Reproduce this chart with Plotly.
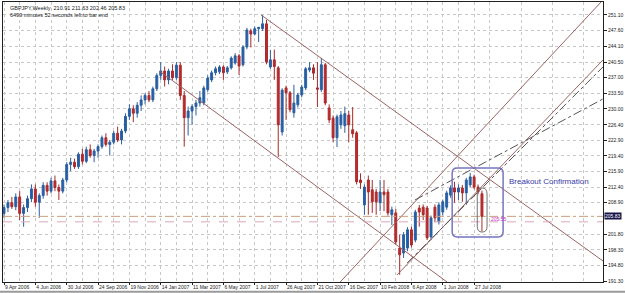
import datetime as dt
import plotly.graph_objects as go

# ---------------- data ----------------
first_week = dt.datetime(2006, 4, 9)
week_labels = ["9 Apr 2006", "4 Jun 2006", "30 Jul 2006", "24 Sep 2006", "19 Nov 2006",
               "14 Jan 2007", "11 Mar 2007", "6 May 2007", "1 Jul 2007", "26 Aug 2007",
               "21 Oct 2007", "16 Dec 2007", "10 Feb 2008", "6 Apr 2008", "1 Jun 2008",
               "27 Jul 2008"]
label_weeks = [0, 8, 16, 24, 32, 40, 48, 56, 64, 72, 80, 88, 96, 104, 112, 120]

price_labels = ["251.10", "247.60", "244.10", "240.50", "237.00", "233.50", "230.00",
                "226.40", "222.90", "219.40", "215.90", "212.40", "208.90", "201.80",
                "198.30", "194.80", "191.30"]

opens = [206.5, 207.8, 208.9, 208.0, 210.2, 206.5, 207.8, 209.8, 212.0, 209.0,
         210.5, 212.8, 211.5, 213.8, 212.3, 211.5, 214.0, 217.5, 218.0, 217.0,
         219.8, 218.2, 220.8, 219.5, 220.5, 221.5, 223.5, 222.0, 222.5, 224.5,
         223.0, 225.0, 228.3, 230.0, 229.0, 230.8, 232.0, 233.0, 232.0, 234.5,
         237.5, 238.5, 236.5, 238.5, 237.0, 239.8, 233.0, 228.0, 229.5, 230.5,
         231.3, 231.3, 234.3, 236.5, 238.1, 238.3, 239.4, 238.3, 239.2, 240.3,
         241.9, 239.9, 243.9, 247.5, 246.8, 248.0, 248.0, 249.1, 239.4, 241.0,
         239.2, 224.8, 234.7, 233.6, 229.1, 230.9, 233.1, 234.7, 238.7, 239.2,
         234.7, 234.3, 239.9, 230.2, 227.9, 223.5, 226.4, 226.2, 228.6, 225.3,
         224.6, 214.0, 208.4, 214.0, 211.8, 211.3, 208.9, 211.3, 211.3, 206.2,
         206.6, 198.7, 197.6, 198.7, 202.8, 200.5, 207.7, 207.9, 207.7, 201.2,
         207.9, 204.6, 206.8, 207.9, 210.6, 212.2, 211.3, 212.2, 211.1, 212.9,
         214.7, 212.4, 210.91]
highs = [208.5, 209.5, 210.2, 211.0, 211.5, 208.5, 210.5, 213.0, 213.0, 211.0,
         213.5, 213.5, 214.5, 215.0, 213.0, 214.5, 218.0, 219.0, 218.8, 220.2,
         221.0, 221.5, 222.0, 221.0, 222.0, 224.0, 224.5, 223.0, 225.0, 226.0,
         225.5, 229.0, 231.0, 230.8, 231.5, 233.0, 233.5, 234.0, 235.0, 238.0,
         240.5, 239.5, 239.0, 240.0, 240.5, 240.5, 234.0, 230.5, 231.0, 232.0,
         234.0, 235.2, 237.5, 238.6, 239.5, 239.8, 239.8, 239.6, 241.8, 242.5,
         242.3, 244.3, 248.2, 248.0, 248.5, 248.4, 251.1, 250.0, 243.2, 243.3,
         239.6, 234.6, 235.2, 234.0, 235.4, 233.6, 235.4, 239.4, 240.5, 240.0,
         240.5, 241.4, 240.3, 231.0, 228.5, 228.7, 229.5, 230.5, 229.5, 230.4,
         225.0, 215.5, 213.0, 215.0, 214.0, 212.0, 214.0, 214.0, 212.0, 208.0,
         207.5, 201.7, 202.3, 203.4, 203.5, 207.3, 208.4, 208.5, 208.2, 206.0,
         208.5, 209.0, 209.6, 211.6, 212.8, 213.6, 213.0, 212.9, 214.5, 215.6,
         215.2, 213.0, 211.63]
lows = [205.5, 206.8, 207.5, 207.2, 205.0, 203.5, 206.8, 209.0, 208.0, 205.5,
        209.8, 210.5, 211.0, 211.5, 209.5, 211.0, 213.5, 216.0, 216.5, 216.5,
        217.5, 217.8, 219.0, 218.0, 219.0, 221.0, 221.5, 219.5, 222.0, 222.5,
        222.0, 224.5, 227.5, 227.0, 228.0, 229.5, 231.0, 231.5, 231.5, 234.0,
        236.5, 235.0, 235.5, 236.5, 236.5, 232.0, 221.5, 224.0, 226.5, 228.5,
        230.5, 230.8, 233.8, 236.0, 237.5, 237.8, 236.5, 237.8, 238.8, 239.9,
        237.6, 239.5, 243.4, 243.8, 246.5, 245.0, 247.5, 240.0, 239.0, 236.5,
        219.2, 224.0, 227.5, 229.2, 228.0, 230.3, 232.6, 234.2, 238.2, 236.5,
        230.4, 233.8, 230.8, 226.8, 222.5, 221.4, 225.5, 224.6, 222.5, 223.5,
        213.0, 212.0, 206.2, 206.2, 206.6, 206.2, 207.0, 207.0, 206.0, 203.9,
        199.5, 192.7, 196.5, 198.0, 198.8, 200.0, 203.5, 205.0, 200.5, 200.5,
        204.5, 204.0, 206.0, 207.3, 210.0, 208.9, 209.5, 209.1, 208.4, 212.3,
        211.9, 210.8, 202.46]
closes = [207.8, 208.9, 208.0, 210.2, 206.5, 207.8, 209.8, 212.0, 209.0, 210.5,
          212.8, 211.5, 213.8, 212.3, 211.5, 214.0, 217.5, 218.0, 217.0, 219.8,
          218.2, 220.8, 219.5, 220.5, 221.5, 223.5, 222.0, 222.5, 224.5, 223.0,
          225.0, 228.3, 230.0, 229.0, 230.8, 232.0, 233.0, 232.0, 234.5, 237.5,
          238.5, 236.5, 238.5, 237.0, 239.8, 233.0, 228.0, 229.5, 230.5, 231.3,
          232.5, 234.7, 236.9, 238.1, 239.0, 239.4, 238.1, 239.2, 241.4, 241.9,
          239.6, 243.9, 247.7, 246.8, 248.0, 248.3, 249.1, 240.5, 241.0, 239.5,
          226.4, 234.2, 233.6, 229.8, 231.3, 233.1, 234.9, 239.0, 239.2, 238.0,
          234.4, 239.9, 231.3, 227.5, 223.5, 228.2, 228.6, 228.9, 226.4, 224.4,
          213.6, 213.4, 212.4, 211.3, 209.1, 209.1, 211.3, 210.7, 206.6, 207.3,
          200.1, 197.2, 201.7, 202.8, 199.4, 206.8, 206.8, 206.2, 201.0, 205.5,
          205.5, 208.4, 209.1, 211.1, 212.2, 211.3, 212.2, 211.1, 214.0, 214.7,
          212.4, 211.3, 205.83]

# trend lines drawn on the chart: (week index, price) endpoints
trend_solid = [((65.6, 251.1), (152.9, 195.8)),
               ((39.8, 238.4), (113.1, 191.08)),
               ((85.8, 191.07), (152.9, 254.47)),
               ((100.3, 192.65), (152.9, 240.98))]
trend_dash = [((104.9, 209.51), (152.9, 232.22)),
              ((102.9, 195.34), (152.9, 239.41))]

bid_price = 205.83
second_level = 204.6
box = (114.4, 127.4, 201.2, 216.7)
capsule = (120.8, 123.3, 202.3, 212.2)
x_span = (-0.26, 152.9)


def wk(w):
    return first_week + dt.timedelta(weeks=w)


def ts(w):
    return wk(w).strftime("%Y-%m-%d_%H:%M:%S")


# ---------------- figure ----------------
dates = [wk(i) for i in range(len(opens))]
fig = go.Figure()
fig.add_trace(go.Candlestick(
    x=dates, open=opens, high=highs, low=lows, close=closes,
    increasing=dict(line=dict(color="#2d5f9e", width=1), fillcolor="#1f5fb0"),
    decreasing=dict(line=dict(color="#a82a2a", width=1), fillcolor="#c4282c"),
    showlegend=False, hoverinfo="skip"))

trend_color = "#9c6464"
shapes = []
for (x0, y0), (x1, y1) in trend_solid:
    shapes.append(dict(type="line", xref="x", yref="y", x0=wk(x0), y0=y0, x1=wk(x1), y1=y1,
                       line=dict(color=trend_color, width=1)))
for (x0, y0), (x1, y1) in trend_dash:
    shapes.append(dict(type="line", xref="x", yref="y", x0=wk(x0), y0=y0, x1=wk(x1), y1=y1,
                       line=dict(color="#555555", width=1, dash="dashdot")))

shapes.append(dict(type="line", xref="paper", yref="y", x0=0, x1=1, y0=bid_price, y1=bid_price,
                   line=dict(color="#c8a07c", width=1, dash="dashdot")))
shapes.append(dict(type="line", xref="paper", yref="y", x0=0, x1=1, y0=second_level, y1=second_level,
                   line=dict(color="#d8a8bc", width=1, dash="dash")))


def rounded_path(x0, x1, y0, y1, rx, ry):
    return (f"M {ts(x0+rx)},{y0} L {ts(x1-rx)},{y0} Q {ts(x1)},{y0} {ts(x1)},{y0+ry} "
            f"L {ts(x1)},{y1-ry} Q {ts(x1)},{y1} {ts(x1-rx)},{y1} L {ts(x0+rx)},{y1} "
            f"Q {ts(x0)},{y1} {ts(x0)},{y1-ry} L {ts(x0)},{y0+ry} Q {ts(x0)},{y0} {ts(x0+rx)},{y0} Z")


bx0, bx1, by0, by1 = box
shapes.append(dict(type="path", xref="x", yref="y", path=rounded_path(bx0, bx1, by0, by1, 1.3, 1.1),
                   line=dict(color="#7676c0", width=1.5)))
cx0, cx1, cy0, cy1 = capsule
shapes.append(dict(type="path", xref="x", yref="y", path=rounded_path(cx0, cx1, cy0, cy1, 1.25, 1.3),
                   line=dict(color="#707070", width=1)))
# window frame strip at the very bottom
shapes.append(dict(type="line", xref="paper", yref="paper", x0=-0.01, x1=1.05, y0=-0.035, y1=-0.035,
                   line=dict(color="#9a9a9a", width=2)))

annotations = [
    dict(xref="paper", yref="paper", x=0, y=1, xanchor="left", yanchor="top", xshift=5, yshift=-1,
         text="GBPJPY,Weekly  210.91 211.63 202.46 205.83", showarrow=False,
         font=dict(size=5.5, color="#202020", family="Liberation Sans")),
    dict(xref="paper", yref="paper", x=0, y=1, xanchor="left", yanchor="top", xshift=5, yshift=-8,
         text="6499 minutes 52 seconds left to bar end", showarrow=False,
         font=dict(size=5.5, color="#202020", family="Liberation Sans")),
    dict(xref="x", yref="y", x=wk(128.5), y=213.6, xanchor="left", yanchor="middle",
         text="Breakout Confirmation", showarrow=False,
         font=dict(size=8, color="#3a3aa8", family="Liberation Sans")),
    dict(xref="x", yref="y", x=wk(123.8), y=205.2, xanchor="left", yanchor="middle",
         text="205.55", showarrow=False,
         font=dict(size=5, color="#cc33cc", family="Liberation Sans")),
    dict(xref="paper", yref="y", x=1, y=bid_price, xanchor="left", yanchor="middle", xshift=1,
         text="205.83", showarrow=False, bgcolor="#15154a", borderpad=0,
         font=dict(size=5, color="white", family="Liberation Sans")),
]

grid_weeks = list(range(4, 153, 8))
fig.update_layout(
    width=625, height=293,
    margin=dict(l=3, r=22, t=2, b=11),
    paper_bgcolor="white", plot_bgcolor="white",
    shapes=shapes, annotations=annotations,
    font=dict(family="Liberation Sans", size=5, color="#202020"),
    xaxis=dict(type="date", range=[wk(x_span[0]), wk(x_span[1])], tickmode="array",
               tickvals=[wk(w) for w in label_weeks], ticktext=week_labels,
               tickangle=0, ticklabelposition="outside right", ticks="outside", ticklen=2,
               tickcolor="#202020", tickfont=dict(size=5),
               showgrid=True, gridcolor="#c8c8c8", griddash="dot", gridwidth=1,
               minor=dict(tickvals=[wk(w) for w in grid_weeks],
                          showgrid=True, gridcolor="#c8c8c8", griddash="dot", ticks=""),
               showline=True, linecolor="#202020", linewidth=1, mirror=True,
               rangeslider=dict(visible=False), zeroline=False, fixedrange=True),
    yaxis=dict(range=[191.08, 254.0], side="right", tickmode="array",
               tickvals=[float(p) for p in price_labels], ticktext=price_labels,
               ticks="outside", ticklen=3, tickcolor="#202020", tickfont=dict(size=5),
               showgrid=True, gridcolor="#c8c8c8", griddash="dot", gridwidth=1,
               showline=True, linecolor="#202020", linewidth=1, mirror=True,
               zeroline=False, fixedrange=True),
)

fig.write_html("out.html")
